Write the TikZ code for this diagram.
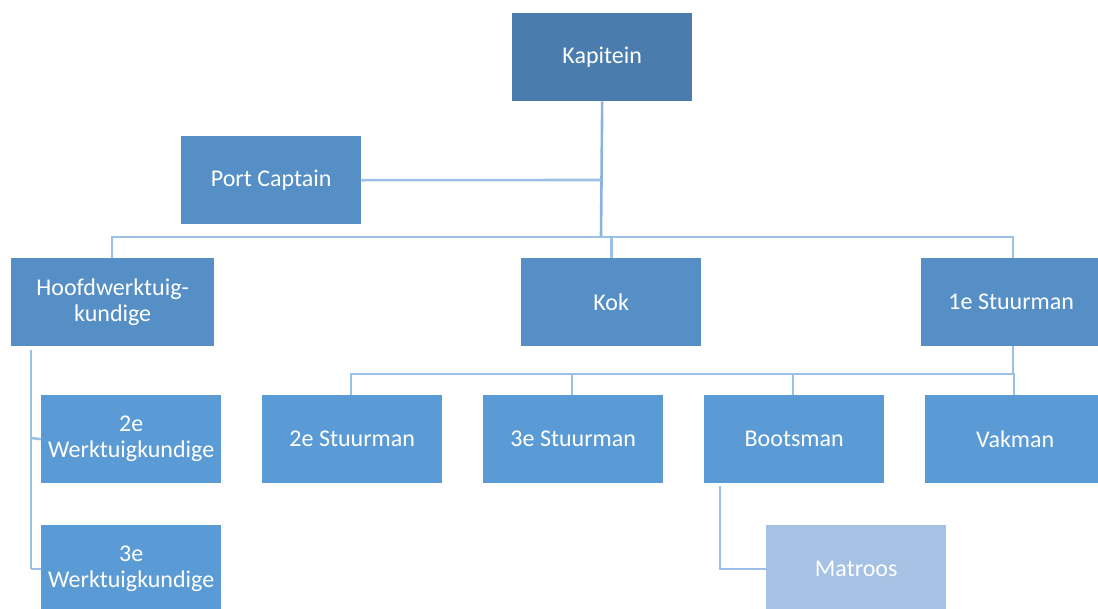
\documentclass[tikz,border=0pt]{standalone}
\usepackage{fontspec}
\setmainfont{Carlito}
\definecolor{c1}{HTML}{4A7DAD}
\definecolor{c2}{HTML}{558FC6}
\definecolor{c3}{HTML}{5B9BD5}
\definecolor{c4}{HTML}{A5C2E4}
\definecolor{ln}{HTML}{9DC0E6}
\definecolor{lntop}{HTML}{8AB4E0}
\begin{document}
\begin{tikzpicture}[x=1pt,y=-1pt,
  box/.style={draw=none,minimum width=180pt,minimum height=88pt,text=white,font=\fontsize{24}{26}\selectfont,align=center,inner sep=0pt,anchor=north west},
  lvla/.style={box,fill=c1},
  lvlb/.style={box,fill=c2},
  lvlc/.style={box,fill=c3},
  lvld/.style={box,fill=c4},
  conn/.style={draw=ln,line width=2.6pt},
  conntop/.style={draw=lntop,line width=2.6pt}]
\clip (0,0) rectangle (1098,608);
\useasboundingbox (0,0) rectangle (1098,608);
\node[lvla] (kap) at (512,13) {Kapitein};
\node[lvlb] (port) at (181,136) {Port Captain};
\node[lvlb,minimum width=203pt] (hoofd) at (11,258) {Hoofdwerktuig-\\kundige};
\node[lvlb] (kok) at (521,258) {Kok};
\node[lvlb] (st1) at (921,258) {1e Stuurman};
\node[lvlc] (wk2) at (41,395) {2e\\Werktuigkundige};
\node[lvlc] (wk3) at (41,525) {3e\\Werktuigkundige};
\node[lvlc] (st2) at (262,395) {2e Stuurman};
\node[lvlc] (st3) at (483,395) {3e Stuurman};
\node[lvlc] (boot) at (704,395) {Bootsman};
\node[lvlc] (vak) at (925,395) {Vakman};
\node[lvld] (mat) at (766,525) {Matroos};
% top level
\coordinate (bar1) at (601,237);
\draw[conntop] (kap.south) -- (bar1);
\draw[conn] (port.east) -- (601,180);
\draw[conn] (hoofd.north -| 112,0) -- (112,237) -- (1013,237) -- (1013,258);
\draw[conn] (kok.north) -- (kok.north |- bar1);
% Hoofd subtree
\draw[conn] (31,350) -- (31,569);
\draw[conn] (31,438) -- (wk2.west);
\draw[conn] (31,569) -- (wk3.west |- 0,569);
% 1e Stuurman subtree
\draw[conn] (1013,346) -- (1013,374);
\draw[conn] (351,395) -- (351,374) -- (1014,374) -- (1014,395);
\draw[conn] (572,374) -- (572,395);
\draw[conn] (793,374) -- (793,395);
% Bootsman subtree
\draw[conn] (720,486) -- (720,569) -- (mat.west |- 0,569);
\end{tikzpicture}
\end{document}
